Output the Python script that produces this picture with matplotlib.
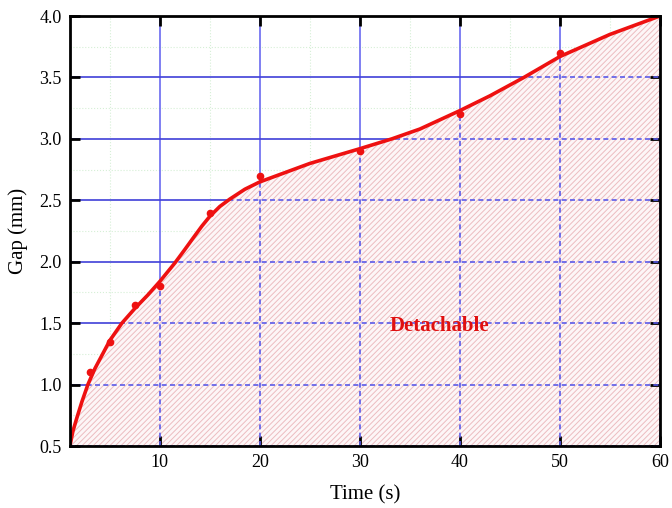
import matplotlib
matplotlib.use("Agg")
import matplotlib.pyplot as plt

# measured data points
t_pts = [3, 5, 7.5, 10, 15, 20, 30, 40, 50]
gap_pts = [1.1, 1.35, 1.65, 1.8, 2.4, 2.7, 2.9, 3.2, 3.7]

# fitted curve
t_curve = [1, 1.3, 1.7, 2.2, 2.8, 3.5, 5, 6.2, 7.5, 8.8, 10, 11.5, 12.5, 13.3, 14.2,
           15, 16, 17, 18.5, 20, 22, 25, 30, 33.2, 36, 40, 43, 46.4, 50, 55, 60]
gap_curve = [0.5, 0.62, 0.73, 0.86, 1.0, 1.13, 1.36, 1.5, 1.62, 1.73, 1.84, 1.99,
             2.1, 2.19, 2.29, 2.37, 2.45, 2.51, 2.59, 2.65, 2.71, 2.8, 2.92, 3.0,
             3.08, 3.23, 3.35, 3.5, 3.67, 3.85, 4.0]

x_ticks = [10, 20, 30, 40, 50, 60]
y_ticks = [0.5, 1.0, 1.5, 2.0, 2.5, 3.0, 3.5, 4.0]
x_minor = [5, 15, 25, 35, 45, 55]
y_minor = [0.75, 1.25, 1.75, 2.25, 2.75, 3.25, 3.75]

plt.rcParams['font.family'] = ['Liberation Serif', 'DejaVu Serif']
plt.rcParams['hatch.linewidth'] = 0.7

fig = plt.figure(figsize=(6.72, 5.08), dpi=100)
ax = fig.add_axes([0.104, 0.122, 0.878, 0.8465])
ax.set_xlim(1, 60)
ax.set_ylim(0.5, 4.0)

# minor grid (faint green dotted)
for xm in x_minor:
    ax.axvline(xm, color='#d6efd6', lw=0.8, ls=':', zorder=0)
for ym in y_minor:
    ax.axhline(ym, color='#d6efd6', lw=0.8, ls=':', zorder=0)

# solid major grid (visible above curve)
for xv in x_ticks:
    ax.axvline(xv, color='#6a6af0', lw=1.2, zorder=0.5)
for yv in y_ticks:
    ax.axhline(yv, color='#4040d8', lw=1.2, zorder=0.5)

# hatched fill region
poly = ax.fill_between(t_curve, gap_curve, 0.5, facecolor='#fdf6f7',
                       edgecolor='#ecbcc0', hatch='//////', linewidth=0, zorder=1)

# dashed grid inside filled region
clip = poly.get_paths()[0]
for xv in x_ticks:
    l = ax.axvline(xv, color='#5a5ae8', lw=1.2, ls=(0, (3, 2)), zorder=2)
    l.set_clip_path(clip, ax.transData)
for yv in y_ticks:
    l = ax.axhline(yv, color='#5a5ae8', lw=1.2, ls=(0, (3, 2)), zorder=2)
    l.set_clip_path(clip, ax.transData)

ax.plot(t_curve, gap_curve, color='#ee1111', lw=2.6, zorder=4,
        solid_capstyle='round', solid_joinstyle='round')
ax.plot(t_pts, gap_pts, 'o', color='#ee1111', ms=4.5, zorder=5)

ax.text(38, 1.48, 'Detachable', color='#e01010', fontweight='bold',
        fontsize=15, ha='center', va='center', zorder=6)

ax.set_xticks(x_ticks)
ax.set_yticks(y_ticks)
ax.set_yticklabels([f'{v:.1f}' for v in y_ticks])
ax.tick_params(direction='in', length=7, width=2, top=True, right=True,
               labelsize=13, pad=6, colors='black')
ax.tick_params(axis='x', labeltop=False)
for s in ax.spines.values():
    s.set_linewidth(2)
    s.set_zorder(7)

ax.set_xlabel('Time (s)', fontsize=15, labelpad=10)
ax.set_ylabel('Gap (mm)', fontsize=15, labelpad=8)

fig.savefig('out.png', dpi=100)
